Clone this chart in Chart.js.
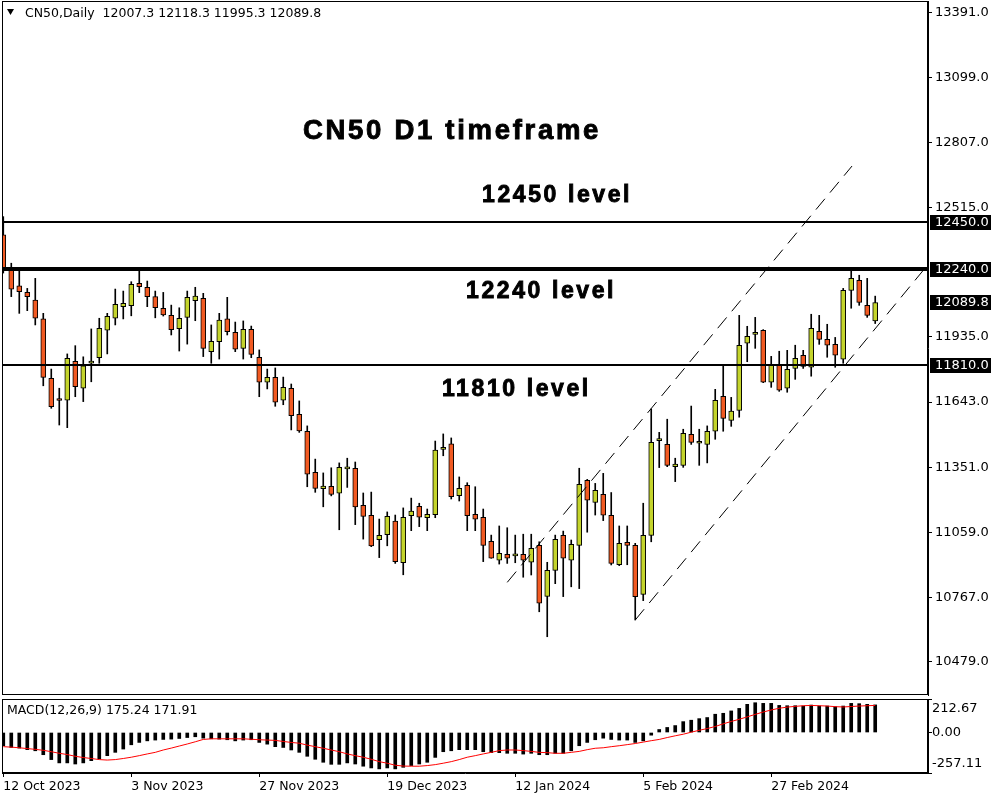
<!DOCTYPE html>
<html>
<head>
<meta charset="utf-8">
<script src="https://cdn.jsdelivr.net/npm/chart.js@4.4.1/dist/chart.umd.min.js"></script>
<style>
  body { margin: 0; background: #fff; }
  #wrap { position: relative; width: 1000px; height: 800px; }
  .panel { position: absolute; left: 0; width: 1000px; }
</style>
</head>
<body>
<div id="wrap">
  <div class="panel" style="top:0;height:697px"><canvas id="price"></canvas></div>
  <div class="panel" style="top:697px;height:103px"><canvas id="macd"></canvas></div>
</div>
<script>
// daily candles, bar 0 = 12 Oct 2023
const open = [12393,12243,12164,12135,12101,12016,11750,11652,11651,11826,11705,11818,11842,11965,12019,12071,12075,12176,12158,12116,
  12064,12032,11972,12023,12098,12108,11869,11914,12016,11956,11884,11969,11844,11732,11754,11651,11705,11588,11512,11328,
  11254,11265,11234,11343,11346,11180,11135,11025,11048,11109,10922,11133,11175,11124,11138,11431,11455,11223,11269,11139,
  11126,11018,10934,10960,10953,10960,10924,11000,10771,10888,11045,10933,11000,11292,11193,11229,11135,10913,11014,11000,
  10780,11045,11470,11453,11353,11359,11498,11458,11453,11512,11669,11561,11606,11907,11947,11965,11732,11812,11705,11794,
  11853,11799,11960,11924,11902,11835,12144,12189,12077,12007.3];
const high = [12475,12266,12243,12153,12198,12041,11791,11705,11859,11896,11846,11971,12019,12041,12150,12141,12183,12231,12186,12141,
  12135,12078,12066,12141,12158,12131,11989,12041,12113,12002,12007,11984,11877,11791,11796,11755,11724,11648,11536,11387,
  11325,11348,11370,11391,11374,11235,11239,11118,11150,11136,11168,11212,11189,11163,11468,11500,11482,11307,11281,11263,
  11163,11046,11087,11079,11046,11050,11050,11016,10924,11046,11064,11024,11346,11296,11278,11323,11237,11087,11087,11009,
  11189,11612,11507,11566,11391,11521,11625,11521,11536,11700,11812,11664,12032,11983,12023,11968,11848,11871,11875,11898,
  11875,12037,12032,11992,11933,12153,12239,12212,12198,12118.3];
const low = [12222,12116,12041,12053,11989,11716,11615,11540,11528,11667,11645,11734,11817,11859,11989,12016,12030,12134,12071,12021,
  12029,11944,11872,11903,12008,11847,11817,11836,11944,11869,11836,11842,11667,11702,11624,11631,11518,11507,11263,11238,
  11173,11222,11070,11260,11093,11028,10994,10945,10998,10919,10868,11066,11084,11066,11124,11402,11208,11199,11066,11066,
  10927,10942,10916,10919,10922,10857,10867,10702,10590,10828,10770,10814,10806,11059,11136,11111,10912,10909,10913,10665,
  10752,11016,11349,11353,11286,11350,11453,11359,11370,11476,11512,11534,11575,11824,11884,11730,11709,11691,11687,11745,
  11794,11759,11902,11844,11799,11817,12064,12077,12023,11995.3];
const close = [12244,12149,12138,12116,12019,11754,11622,11650,11839,11712,11805,11822,11974,12028,12082,12086,12171,12161,12116,12066,
  12034,11968,12019,12113,12118,11884,11916,12011,11959,11880,11969,11857,11732,11754,11642,11709,11582,11514,11319,11256,
  11266,11229,11350,11345,11173,11130,10998,11045,11130,10927,11126,11154,11126,11139,11428,11440,11218,11256,11133,11117,
  11000,10943,10964,10942,10955,10933,10987,10740,10888,11027,10942,11005,11274,11203,11247,11135,10919,11009,11000,10770,
  11045,11462,11472,11359,11365,11503,11462,11460,11512,11651,11570,11602,11898,11938,11956,11732,11812,11696,11790,11839,
  11803,11974,11924,11898,11853,12144,12198,12090,12032,12089.8];

// MACD(12,26,9): histogram = main line, red = signal
const macd = [-84,-95,-99,-109,-116,-141,-172,-193,-193,-200,-193,-179,-168,-147,-126,-105,-78,-63,-53,-48,
  -44,-42,-38,-32,-27,-36,-40,-42,-46,-53,-48,-46,-63,-74,-90,-95,-111,-126,-151,-170,
  -189,-202,-202,-193,-200,-214,-225,-231,-225,-231,-221,-210,-200,-189,-158,-122,-116,-109,-109,-109,
  -122,-128,-128,-132,-132,-137,-132,-141,-141,-132,-132,-116,-84,-63,-46,-36,-44,-48,-48,-63,
  -53,-17,19,32,44,69,78,88,95,116,122,137,153,179,189,185,185,172,170,170,
  168,174,168,168,164,168,185,183,179,175.24];
const signal = [-90,-93,-97,-102,-107,-113,-122,-132,-140,-151,-159,-165,-172,-175,-172,-165,-157,-147,-136,-126,
  -111,-99,-86,-73,-59,-44,-40,-40,-40,-40,-40,-43,-46,-48,-50,-57,-63,-68,-80,-90,
  -100,-111,-122,-136,-147,-157,-170,-185,-195,-208,-213,-214,-214,-210,-204,-195,-185,-172,-157,-147,
  -136,-126,-115,-111,-111,-115,-120,-126,-128,-132,-132,-126,-120,-109,-100,-97,-90,-84,-77,-70,
  -61,-52,-44,-32,-21,-11,2,14,25,38,55,70,84,99,115,130,143,154,161,166,
  170,172,170,168,164,162,165,168,170,171.91];

const tickBars = [0, 16, 32, 48, 64, 80, 96];
const tickLabels = ['12 Oct 2023', '3 Nov 2023', '27 Nov 2023', '19 Dec 2023', '12 Jan 2024', '5 Feb 2024', '27 Feb 2024'];
const priceTicks = [13391, 13099, 12807, 12515, 11935, 11643, 11351, 11059, 10767, 10479];
const macdTicks = [212.67, 0, -257.11];
const macdTickText = ['212.67', '0.00', '-257.11'];

const levels = [12450, 12240, 11810];
const levelNames = ['12450 level', '12240 level', '11810 level'];
// trend channel drawn on the chart: [bar, price] end points
const upperChannel = [[63.0, 10834], [106.1, 12702]];
const lowerChannel = [[79.0, 10665], [115.6, 12260]];

const BULL = '#c4d42c';
const BEAR = '#f15a22';
const FONT = 'DejaVu Sans';

Chart.defaults.font.family = FONT;
Chart.defaults.font.size = 12.5;
Chart.defaults.color = '#000';

const xMin = -0.16, xMax = 115.6;
const idx = open.map((_, i) => i);

function boldText(ctx, text, x, y) {
  ctx.fillText(text, x, y);
  ctx.strokeText(text, x, y);
}

const priceOverlay = {
  id: 'priceOverlay',
  afterDatasetsDraw(chart) {
    const { ctx, chartArea: a, scales: { y } } = chart;
    ctx.save();
    ctx.strokeStyle = '#000';
    const widths = [2, 4, 2];
    levels.forEach((v, k) => {
      const py = Math.round(y.getPixelForValue(v));
      ctx.lineWidth = widths[k];
      ctx.beginPath();
      ctx.moveTo(a.left, py);
      ctx.lineTo(a.right, py);
      ctx.stroke();
    });
    ctx.restore();
  },
  afterDraw(chart) {
    const { ctx, chartArea: a, scales: { y } } = chart;
    ctx.save();
    ctx.strokeStyle = '#000';
    ctx.lineWidth = 1;
    ctx.strokeRect(a.left + 0.5, a.top + 0.5, a.right - a.left - 1, a.bottom - a.top - 1);

    // header
    ctx.fillStyle = '#000';
    ctx.beginPath();
    ctx.moveTo(7, 9); ctx.lineTo(14, 9); ctx.lineTo(10.5, 15); ctx.closePath();
    ctx.fill();
    ctx.font = '12.5px ' + FONT;
    ctx.textBaseline = 'alphabetic';
    ctx.fillText('CN50,Daily  ' + [open, high, low, close].map(s => s[s.length - 1].toFixed(1)).join(' '), 25, 17);

    // annotations
    ctx.lineWidth = 0.9;
    ctx.font = 'bold 27.5px "Liberation Sans"';
    ctx.letterSpacing = '2.7px';
    boldText(ctx, 'CN50 D1 timeframe', 303, 139);
    ctx.font = 'bold 23px "Liberation Sans"';
    ctx.letterSpacing = '2.6px';
    const textPos = [[482, 202], [466, 298], [442, 396]];
    levelNames.forEach((t, k) => boldText(ctx, t, textPos[k][0], textPos[k][1]));
    ctx.letterSpacing = '0px';

    // price boxes on the axis
    ctx.font = '13px ' + FONT;
    ctx.textBaseline = 'middle';
    levels.concat([close[close.length - 1]]).forEach(v => {
      const py = Math.round(y.getPixelForValue(v));
      ctx.fillStyle = '#000';
      ctx.fillRect(930, py - 7, 61, 15);
      ctx.fillStyle = '#fff';
      ctx.fillText(v.toFixed(1), 935, py + 1);
    });
    ctx.restore();
  }
};

new Chart(document.getElementById('price'), {
  type: 'bar',
  data: {
    datasets: [
      {
        type: 'line',
        data: upperChannel.map(p => ({ x: p[0], y: p[1] })),
        borderColor: '#000', borderWidth: 1, borderDash: [14, 8], pointRadius: 0,
        order: 0,
      },
      {
        type: 'line',
        data: lowerChannel.map(p => ({ x: p[0], y: p[1] })),
        borderColor: '#000', borderWidth: 1, borderDash: [14, 8], pointRadius: 0,
        order: 0,
      },
      {
        label: 'body',
        data: idx.map(i => ({ x: i, y: [open[i], close[i]] })),
        backgroundColor: idx.map(i => close[i] >= open[i] ? BULL : BEAR),
        borderColor: '#000',
        borderWidth: 1,
        borderSkipped: false,
        barThickness: 5,
        minBarLength: 2,
        grouped: false,
        order: 1,
      },
      {
        label: 'wick',
        data: idx.map(i => ({ x: i, y: [low[i], high[i]] })),
        backgroundColor: '#000',
        barThickness: 1,
        grouped: false,
        order: 2,
      },
    ],
  },
  options: {
    animation: false,
    responsive: true,
    maintainAspectRatio: false,
    events: [],
    layout: { padding: { left: 2, top: 1, bottom: 2, right: 0 } },
    plugins: { legend: { display: false }, tooltip: { enabled: false } },
    scales: {
      x: { type: 'linear', min: xMin, max: xMax, offset: false, display: false },
      y: {
        position: 'right',
        min: 10328.5,
        max: 13442.6,
        afterBuildTicks: (s) => { s.ticks = priceTicks.map(v => ({ value: v })); },
        afterFit: (s) => { s.width = 72; s.paddingTop = 0; s.paddingBottom = 0; },
        ticks: { callback: (v) => Number(v).toFixed(1), padding: 3, font: { size: 13 } },
        grid: { drawOnChartArea: false, color: '#000', tickLength: 4 },
        border: { display: true, color: '#000' },
      },
    },
  },
  plugins: [priceOverlay],
});

const macdOverlay = {
  id: 'macdOverlay',
  afterDraw(chart) {
    const { ctx, chartArea: a, scales: { y } } = chart;
    ctx.save();
    ctx.strokeStyle = '#000';
    ctx.lineWidth = 1;
    ctx.strokeRect(a.left + 0.5, a.top + 0.5, a.right - a.left - 1, a.bottom - a.top - 1);
    ctx.fillStyle = '#000';
    ctx.font = '12.5px ' + FONT;
    ctx.textBaseline = 'alphabetic';
    ctx.fillText('MACD(12,26,9) ' + macd[macd.length - 1].toFixed(2) + ' ' + signal[signal.length - 1].toFixed(2), 7, 17);
    // MT4 puts the extreme labels inside the window
    ctx.font = '13px ' + FONT;
    ctx.textBaseline = 'middle';
    const shift = [10, 0, -9];
    macdTicks.forEach((v, k) => {
      ctx.fillText(macdTickText[k], 932, y.getPixelForValue(v) + shift[k]);
    });
    ctx.restore();
  }
};

new Chart(document.getElementById('macd'), {
  type: 'bar',
  data: {
    datasets: [
      {
        type: 'line',
        data: idx.map(i => ({ x: i, y: signal[i] })),
        borderColor: '#ff0000', borderWidth: 1, pointRadius: 0,
        order: 0,
      },
      {
        data: idx.map(i => ({ x: i, y: macd[i] })),
        backgroundColor: '#000',
        barThickness: 3,
        order: 1,
      },
    ],
  },
  options: {
    animation: false,
    responsive: true,
    maintainAspectRatio: false,
    events: [],
    layout: { padding: { left: 2, top: 2, bottom: 0, right: 0 } },
    plugins: { legend: { display: false }, tooltip: { enabled: false } },
    scales: {
      x: {
        type: 'linear', min: xMin, max: xMax, offset: false,
        afterBuildTicks: (s) => { s.ticks = tickBars.map(v => ({ value: v })); },
        afterFit: (s) => { s.height = 27; s.paddingLeft = 0; s.paddingRight = 0; },
        ticks: {
          align: 'start', maxRotation: 0, autoSkip: false, padding: 2,
          callback: (v) => tickLabels[tickBars.indexOf(v)],
        },
        grid: { drawOnChartArea: false, color: '#000', tickLength: 4, offset: false },
        border: { display: true, color: '#000' },
      },
      y: {
        position: 'right',
        min: -257.11,
        max: 212.67,
        afterBuildTicks: (s) => { s.ticks = macdTicks.map(v => ({ value: v })); },
        afterFit: (s) => { s.width = 72; s.paddingTop = 0; s.paddingBottom = 0; },
        ticks: { callback: () => '' },
        grid: { drawOnChartArea: false, color: '#000', tickLength: 4 },
        border: { display: true, color: '#000' },
      },
    },
  },
  plugins: [macdOverlay],
});
</script>
</body>
</html>
